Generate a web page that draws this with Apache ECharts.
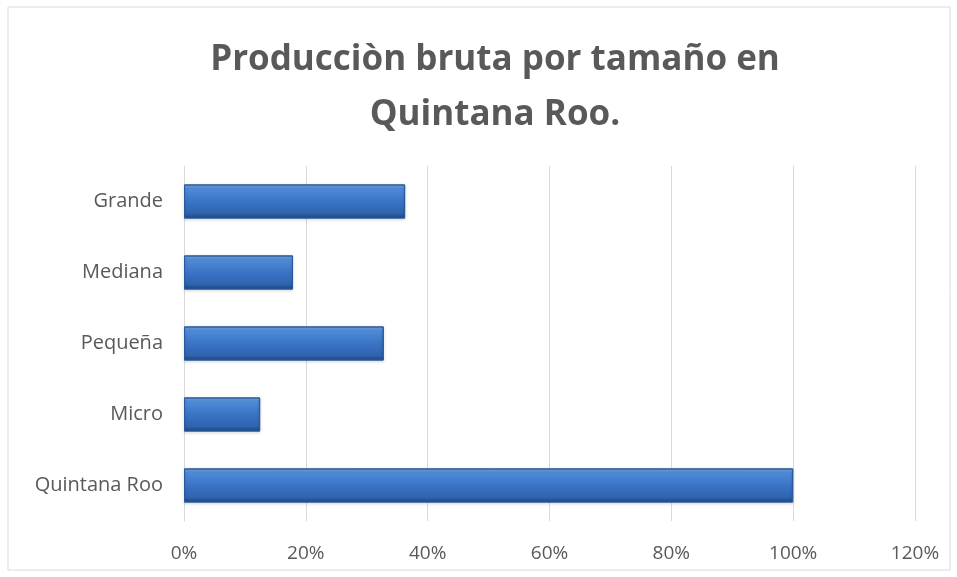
<!DOCTYPE html>
<html>
<head>
<meta charset="utf-8">
<script src="https://cdn.jsdelivr.net/npm/echarts@6/dist/echarts.min.js"></script>
<style>
  html, body { margin: 0; padding: 0; background: #fff; }
  #main { width: 957px; height: 577px; }
</style>
</head>
<body>
<div id="main"></div>
<script>
var categories = ['Quintana Roo', 'Micro', 'Pequeña', 'Mediana', 'Grande'];
var shares = [100, 12.5, 32.8, 17.9, 36.3];
var tickMax = 120;
var tickStep = 20;

var chart = echarts.init(document.getElementById('main'));
var barColor = new echarts.graphic.LinearGradient(0, 0, 0, 1, [
  { offset: 0, color: '#8ab8ee' },
  { offset: 0.12, color: '#4f8bd8' },
  { offset: 0.5, color: '#3a74c6' },
  { offset: 0.85, color: '#2f63ad' },
  { offset: 1, color: '#1d4580' }
]);
var option = {
  backgroundColor: '#fff',
  graphic: [{
    type: 'rect',
    shape: { x: 8, y: 7, width: 942, height: 563 },
    style: { fill: 'none', stroke: '#d9d9d9', lineWidth: 1 },
    silent: true
  }],
  title: {
    text: 'Producciòn bruta por tamaño en\nQuintana Roo.',
    left: 490,
    textAlign: 'center',
    top: 28,
    textStyle: {
      fontFamily: 'Open Sans',
      fontSize: 35,
      fontWeight: 'bold',
      color: '#595959',
      lineHeight: 55
    }
  },
  grid: { left: 184, right: 42, top: 166, bottom: 56, containLabel: false },
  xAxis: {
    type: 'value',
    min: 0,
    max: tickMax,
    interval: tickStep,
    axisLine: { show: false },
    axisTick: { show: false },
    axisLabel: {
      formatter: '{value}%',
      color: '#595959',
      fontFamily: 'Open Sans',
      fontSize: 19,
      margin: 23
    },
    splitLine: { lineStyle: { color: '#d9d9d9', width: 1 } }
  },
  yAxis: {
    type: 'category',
    data: categories,
    axisLine: { lineStyle: { color: '#d9d9d9' } },
    axisTick: { show: false },
    axisLabel: {
      color: '#595959',
      fontFamily: 'Open Sans',
      fontSize: 20,
      margin: 21
    }
  },
  series: [{
    type: 'bar',
    data: shares,
    barWidth: '48%',
    itemStyle: {
      color: barColor,
      borderColor: '#2a5a9e',
      borderWidth: 1,
      shadowColor: 'rgba(0,0,0,0.25)',
      shadowBlur: 3,
      shadowOffsetY: 1
    }
  }]
};
chart.setOption(option);
</script>
</body>
</html>
